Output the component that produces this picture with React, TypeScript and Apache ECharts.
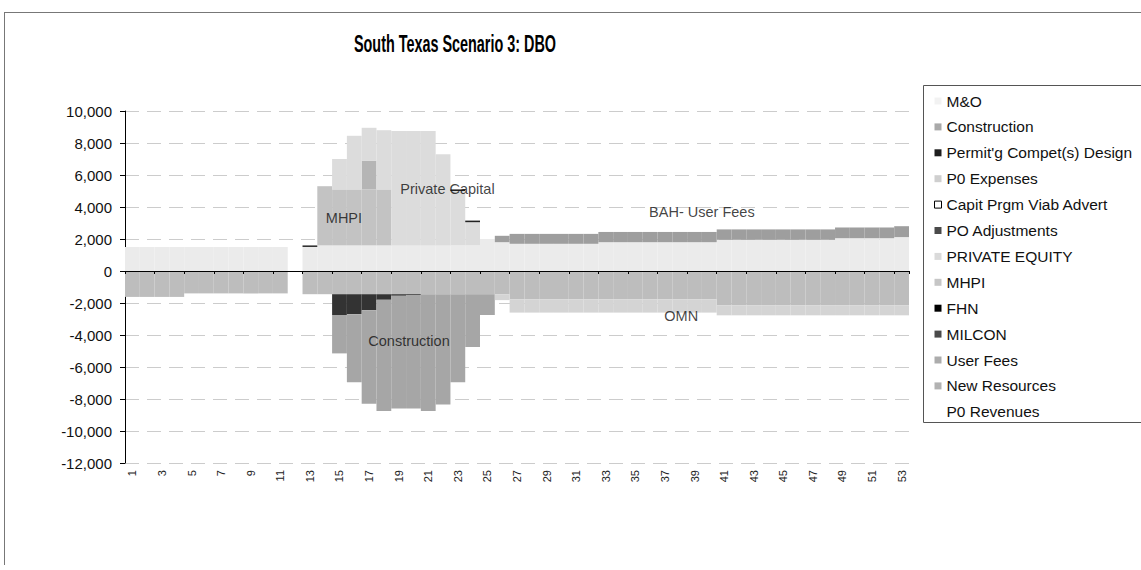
import React, { useEffect, useRef } from 'react';
import * as echarts from 'echarts';

const categories = ['1','2','3','4','5','6','7','8','9','10','11','12','13','14','15','16','17','18','19','20','21','22','23','24','25','26','27','28','29','30','31','32','33','34','35','36','37','38','39','40','41','42','43','44','45','46','47','48','49','50','51','52','53'];

const yTicks = { min: -12000, max: 10000, interval: 2000 };

// Revenues (positive)
const p0Revenues = [1500,1500,1500,1500,1500,1500,1500,1500,1500,1500, 1500,0,1500,1600,1600,1600,1600,1600,1600,1600, 1600,1600,1600,1600,2000,1800,1700,1700,1700,1700, 1700,1700,1800,1800,1800,1800,1800,1800,1800,1800, 1950,1950,1950,1950,1950,1950,1950,1950,2050,2050, 2050,2050,2120];
const milcon = [0,0,0,0,0,0,0,0,0,0, 0,0,100,0,0,0,0,0,0,0, 0,0,0,0,0,0,0,0,0,0, 0,0,0,0,0,0,0,0,0,0, 0,0,0,0,0,0,0,0,0,0, 0,0,0];
const mhpi = [0,0,0,0,0,0,0,0,0,0, 0,0,0,3700,3500,3500,3500,3500,0,0, 0,0,0,0,0,0,0,0,0,0, 0,0,0,0,0,0,0,0,0,0, 0,0,0,0,0,0,0,0,0,0, 0,0,0];
const newResources = [0,0,0,0,0,0,0,0,0,0, 0,0,0,0,0,0,1800,0,0,0, 0,0,0,0,0,0,0,0,0,0, 0,0,0,0,0,0,0,0,0,0, 0,0,0,0,0,0,0,0,0,0, 0,0,0];
const privateEquity = [0,0,0,0,0,0,0,0,0,0, 0,0,0,0,1900,3350,2050,3700,7150,7150, 7150,5700,3400,1450,0,0,0,0,0,0, 0,0,0,0,0,0,0,0,0,0, 0,0,0,0,0,0,0,0,0,0, 0,0,0];
const fhn = [0,0,0,0,0,0,0,0,0,0, 0,0,0,0,0,0,0,0,0,0, 0,0,100,100,0,0,0,0,0,0, 0,0,0,0,0,0,0,0,0,0, 0,0,0,0,0,0,0,0,0,0, 0,0,0];
const userFees = [0,0,0,0,0,0,0,0,0,0, 0,0,0,0,0,0,0,0,0,0, 0,0,0,0,0,400,620,620,620,620, 620,620,640,640,640,640,640,640,640,640, 650,650,650,650,650,650,650,650,670,670, 670,670,680];

// Expenses (negative)
const p0Expenses = [-1620,-1620,-1620,-1620,-1400,-1400,-1400,-1400,-1400,-1400, -1400,0,-1450,-1450,-1450,-1450,-1450,-1450,-1450,-1450, -1450,-1450,-1450,-1450,-1450,-1450,-1770,-1770,-1770,-1770, -1770,-1770,-1770,-1770,-1770,-1770,-1770,-1770,-1770,-1770, -2140,-2140,-2140,-2140,-2140,-2140,-2140,-2140,-2140,-2140, -2140,-2140,-2140];
const permitDesign = [0,0,0,0,0,0,0,0,0,0, 0,0,0,0,-1300,-1250,-1000,-350,-100,-50, 0,0,0,0,0,0,0,0,0,0, 0,0,0,0,0,0,0,0,0,0, 0,0,0,0,0,0,0,0,0,0, 0,0,0];
const construction = [0,0,0,0,0,0,0,0,0,0, 0,0,0,0,-2400,-4250,-5850,-6950,-7050,-7100, -7300,-6900,-5500,-3300,-1300,0,0,0,0,0, 0,0,0,0,0,0,0,0,0,0, 0,0,0,0,0,0,0,0,0,0, 0,0,0];
const mAndO = [0,0,0,0,0,0,0,0,0,0, 0,0,0,0,0,0,0,0,0,0, 0,0,0,0,0,-370,-830,-830,-830,-830, -830,-830,-830,-830,-830,-830,-830,-830,-830,-830, -630,-630,-630,-630,-630,-630,-630,-630,-630,-630, -630,-630,-630];
const capitPrgm: number[] = [];
const poAdjustments: number[] = [];

const legendNames = ['M&O','Construction',"Permit'g Compet(s) Design",'P0 Expenses','Capit Prgm Viab Advert','PO Adjustments','PRIVATE EQUITY','MHPI','FHN','MILCON','User Fees','New Resources','P0 Revenues'];
const legendColors = ['#f2f2f2','#a9a9a9','#1e1e1e','#cfcfcf','#ffffff','#4a4a4a','#dadada','#c6c6c6','#000000','#4a4a4a','#acacac','#b2b2b2','#ffffff'];

// Annotation texts placed in data units (category number, value)
const annotations = [
  { name: 'MHPI', value: [15.3, 3300] },
  { name: 'Private Capital', value: [22.3, 5100] },
  { name: 'Construction', value: [19.7, -4360] },
  { name: 'BAH- User Fees', value: [39.5, 3700] },
  { name: 'OMN', value: [38.1, -2800] },
];

const FONT = "'Liberation Sans', Arial, sans-serif";

function bar(name: string, data: number[], color: string) {
  return {
    type: 'bar', name, data, stack: 'all', color,
    barCategoryGap: '0%', barGap: '0%',
    itemStyle: { color },
    emphasis: { disabled: true },
  };
}

export default function App() {
  const ref = useRef<HTMLDivElement>(null);
  useEffect(() => {
    document.body.style.margin = '0';
    const chart = echarts.init(ref.current!, null, { renderer: 'svg' });
    const option: any = {
      animation: false,
      backgroundColor: '#ffffff',
      textStyle: { fontFamily: FONT },
      grid: { left: 125, right: 232, top: 111, bottom: 107, containLabel: false },
      xAxis: [
        {
          type: 'category', data: categories, position: 'bottom', z: 5,
          axisLine: { onZero: true, lineStyle: { color: '#000', width: 1 } },
          axisTick: { show: true, length: 3, lineStyle: { color: '#000' } },
          axisLabel: { show: false },
          splitLine: { show: false },
        },
        {
          type: 'category', data: categories, position: 'bottom',
          axisLine: { show: false, onZero: false },
          axisTick: { show: false },
          axisLabel: { show: true, interval: 1, rotate: 90, margin: 7, fontSize: 11, color: '#222', fontFamily: FONT },
          splitLine: { show: false },
        },
        { type: 'value', min: 0.5, max: 53.5, show: false },
      ],
      yAxis: {
        type: 'value', min: yTicks.min, max: yTicks.max, interval: yTicks.interval,
        axisLine: { show: true, lineStyle: { color: '#000' } },
        axisTick: { show: true, length: 5, lineStyle: { color: '#000' } },
        axisLabel: {
          margin: 13, fontSize: 15, color: '#111', fontFamily: FONT,
          formatter: (v: number) => v.toLocaleString('en-US'),
        },
        splitLine: { show: true, lineStyle: { color: '#cccccc', type: [14, 8], width: 1 } },
      },
      legend: {
        orient: 'vertical', left: 934, top: 92, padding: 0,
        itemWidth: 7, itemHeight: 7, itemGap: 7.9, selectedMode: false,
        icon: 'rect',
        textStyle: { fontSize: 15.5, lineHeight: 18, color: '#111', fontFamily: FONT },
        data: legendNames.map((n, i) => ({
          name: n,
          itemStyle: n === 'Capit Prgm Viab Advert'
            ? { color: '#fff', borderColor: '#000', borderWidth: 1 }
            : { color: legendColors[i], borderWidth: 0 },
        })),
      },
      graphic: [
        { type: 'line', shape: { x1: 4, y1: 12.5, x2: 1141, y2: 12.5 }, style: { stroke: '#777', lineWidth: 1 } },
        { type: 'line', shape: { x1: 4.5, y1: 12, x2: 4.5, y2: 565 }, style: { stroke: '#777', lineWidth: 1 } },
        { type: 'rect', shape: { x: 923.5, y: 85.5, width: 300, height: 337 }, style: { fill: 'none', stroke: '#555', lineWidth: 1 }, z: 10 },
        { type: 'text', x: 455, y: 44, scaleX: 0.6, style: { text: 'South Texas Scenario 3: DBO', fontSize: 24, fontWeight: 'bold', fontFamily: FONT, fill: '#000', textAlign: 'center', textVerticalAlign: 'middle' } },
      ],
      series: [
        bar('P0 Revenues', p0Revenues, '#ebebeb'),
        bar('MILCON', milcon, '#333333'),
        bar('MHPI', mhpi, '#c3c3c3'),
        bar('New Resources', newResources, '#b5b5b5'),
        bar('PRIVATE EQUITY', privateEquity, '#dcdcdc'),
        bar('FHN', fhn, '#222222'),
        bar('User Fees', userFees, '#9e9e9e'),
        bar('P0 Expenses', p0Expenses, '#bdbdbd'),
        bar("Permit'g Compet(s) Design", permitDesign, '#333333'),
        bar('Construction', construction, '#a6a6a6'),
        bar('M&O', mAndO, '#d4d4d4'),
        bar('Capit Prgm Viab Advert', capitPrgm, '#ffffff'),
        bar('PO Adjustments', poAdjustments, '#4a4a4a'),
        {
          type: 'scatter', xAxisIndex: 2, yAxisIndex: 0, symbolSize: 0, z: 20,
          data: annotations,
          label: { show: true, position: 'inside', formatter: '{b}', fontSize: 14.5, color: '#111', fontFamily: FONT },
          emphasis: { disabled: true }, silent: true,
        },
      ],
    };
    chart.setOption(option);
    return () => chart.dispose();
  }, []);
  return <div ref={ref} style={{ width: 1141, height: 570, background: '#fff' }} />;
}
